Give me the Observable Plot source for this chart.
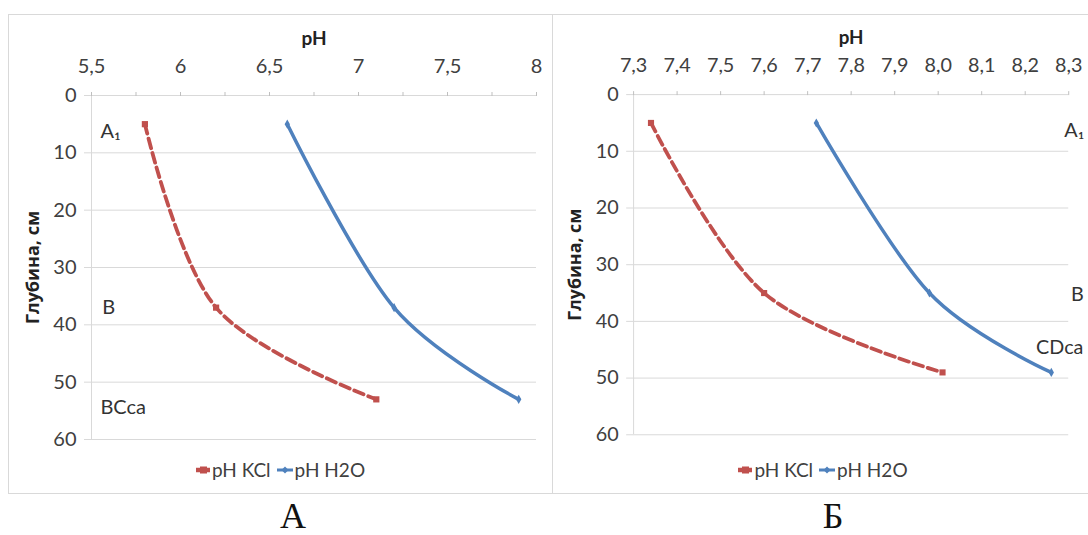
<!DOCTYPE html>
<html><head><meta charset="utf-8">
<script src="https://cdn.jsdelivr.net/npm/d3@7"></script>
<script src="https://cdn.jsdelivr.net/npm/@observablehq/plot@0.6"></script>
<style>
body{margin:0;background:#fff;}
#page{position:relative;width:1088px;height:535px;overflow:hidden;font-family:Lato,"Open Sans",sans-serif;color:#404040;}
.frame{position:absolute;border:1px solid #d9d9d9;box-sizing:border-box;}
.chart{position:absolute;}
.legend{position:absolute;display:flex;justify-content:center;align-items:center;font-size:19px;color:#404040;gap:6px;line-height:22px;}
.legend span{display:inline-flex;align-items:center;gap:2px;}
.caption{position:absolute;font-family:"Liberation Serif","DejaVu Serif",serif;font-size:36px;line-height:36px;height:36px;color:#111;transform:translateX(-50%);}
</style></head><body><div id="page"></div>
<script>
// ---- data ----
const depthA = [5, 37, 53];
const kclA = [5.8, 6.2, 7.1];
const h2oA = [6.6, 7.2, 7.9];
const depthB = [5, 35, 49];
const kclB = [7.34, 7.6, 8.01];
const h2oB = [7.72, 7.98, 8.26];

const seriesNames = ["pH KCl", "pH H2O"];
const depthTicks = [0, 10, 20, 30, 40, 50, 60];
const xTicksA = [5.5, 5.75, 6, 6.25, 6.5, 6.75, 7, 7.25, 7.5, 7.75, 8];
const xLabelsA = [5.5, 6, 6.5, 7, 7.5, 8];
const xTicksB = [7.3, 7.4, 7.5, 7.6, 7.7, 7.8, 7.9, 8.0, 8.1, 8.2, 8.3];
const xLabelsB = xTicksB;

const horizonNamesA = ["A₁", "B", "BCca"];
const horizonPhA = [5.55, 5.56, 5.55];
const horizonDepthA = [6.3, 37, 54.4];
const horizonNamesB = ["A₁", "B", "CDca"];
const horizonPhB = [8.29, 8.305, 8.225];
const horizonDepthB = [6.3, 35.2, 44.7];

const axisTitle = "Глубина, см";
const xTitle = "pH";
const captions = ["А", "Б"];

const RED = "#C0504D", BLUE = "#4F81BD", GRID = "#d9d9d9", TXT = "#404040";

function rows(xs, ys) { return xs.map((v, i) => ({ph: v, depth: ys[i]})); }
function hz(names, xs, ys) { return names.map((n, i) => ({name: n, ph: xs[i], depth: ys[i]})); }

function panel({kcl, h2o, depth, domain, ticks, labels, fmt, horizons, width, marginLeft, marginRight, titleDx}) {
  const kd = rows(kcl, depth), hd = rows(h2o, depth);
  return Plot.plot({
    width, height: 479,
    marginTop: 81, marginBottom: 54, marginLeft, marginRight,
    style: {fontFamily: "Lato, 'Open Sans', sans-serif", fontSize: "20px", color: TXT, background: "transparent", overflow: "visible"},
    x: {domain, axis: null},
    y: {domain: [0, 60], reverse: true, axis: null},
    marks: [
      Plot.gridY(depthTicks, {stroke: GRID, strokeOpacity: 1, strokeWidth: 1}),
      Plot.axisY(depthTicks, {anchor: "left", tickSize: 7, tickPadding: 8, stroke: GRID, strokeOpacity: 1, fill: TXT, label: null, fontSize: 20}),
      Plot.ruleX([domain[0]], {stroke: GRID, strokeWidth: 1}),
      Plot.axisX(ticks, {anchor: "top", tickSize: 4, tickPadding: 19, stroke: "#bfbfbf", strokeOpacity: 1, fill: TXT, label: null, fontSize: 20,
        tickFormat: d => labels.some(l => Math.abs(l - d) < 1e-9) ? fmt(d) : ""}),
      Plot.text([xTitle], {frameAnchor: "top", dy: -57, lineAnchor: "middle", textAnchor: "middle", fontWeight: "bold", fontSize: 19, fill: "#222"}),
      Plot.text([axisTitle], {frameAnchor: "left", dx: titleDx, rotate: -90, lineAnchor: "middle", textAnchor: "middle", fontWeight: "bold", fontSize: 18, fontFamily: "'Open Sans', sans-serif", fill: "#222"}),
      Plot.text(horizons, {x: "ph", y: "depth", text: "name", textAnchor: "start", lineAnchor: "middle", fontSize: 20, fill: "#333"}),
      Plot.line(hd, {x: "ph", y: "depth", curve: "cardinal", stroke: BLUE, strokeWidth: 3.5}),
      Plot.line(kd, {x: "ph", y: "depth", curve: "cardinal", stroke: RED, strokeWidth: 3.8, strokeDasharray: "10,5"}),
      Plot.dot(kd, {x: "ph", y: "depth", symbol: "square", r: 3.5, fill: RED}),
      Plot.dot(hd, {x: "ph", y: "depth", symbol: "diamond", r: 2.8, fill: BLUE})
    ]
  });
}

const page = document.getElementById("page");

function legendHTML() {
  return `<span><svg width="14" height="10"><line x1="0" y1="5" x2="14" y2="5" stroke="${RED}" stroke-width="4.5"/><rect x="4" y="1.5" width="7" height="7" fill="${RED}"/></svg>${seriesNames[0]}</span>` +
         `<span><svg width="16" height="10"><line x1="0" y1="5" x2="16" y2="5" stroke="${BLUE}" stroke-width="3"/><path d="M8 1.5 L11.5 5 L8 8.5 L4.5 5 Z" fill="${BLUE}"/></svg>${seriesNames[1]}</span>`;
}

function addPanel(left, frameWidth, opts, capX, capText) {
  const frame = document.createElement("div");
  frame.className = "frame";
  Object.assign(frame.style, {left: left + "px", top: "14px", width: frameWidth + "px", height: "480px"});
  page.appendChild(frame);
  const holder = document.createElement("div");
  holder.className = "chart";
  Object.assign(holder.style, {left: left + "px", top: "14px"});
  holder.appendChild(panel(opts));
  page.appendChild(holder);
  const lg = document.createElement("div");
  lg.className = "legend";
  Object.assign(lg.style, {left: left + "px", width: frameWidth + "px", top: "459px"});
  lg.innerHTML = legendHTML();
  page.appendChild(lg);
  const cap = document.createElement("div");
  cap.className = "caption";
  Object.assign(cap.style, {left: capX + "px", top: "498px"});
  cap.textContent = capText;
  page.appendChild(cap);
}

const fmtA = d => String(d).replace(".", ",");
const fmtB = d => d.toFixed(1).replace(".", ",");

addPanel(8, 545, {kcl: kclA, h2o: h2oA, depth: depthA, domain: [5.5, 8], ticks: xTicksA, labels: xLabelsA, fmt: fmtA,
  horizons: hz(horizonNamesA, horizonPhA, horizonDepthA), width: 544, marginLeft: 83, marginRight: 16, titleDx: -58}, 293, captions[0]);
addPanel(552, 542, {kcl: kclB, h2o: h2oB, depth: depthB, domain: [7.3, 8.3], ticks: xTicksB, labels: xLabelsB, fmt: fmtB,
  horizons: hz(horizonNamesB, horizonPhB, horizonDepthB), width: 542, marginLeft: 82, marginRight: 20, titleDx: -59}, 833, captions[1]);
</script></body></html>
